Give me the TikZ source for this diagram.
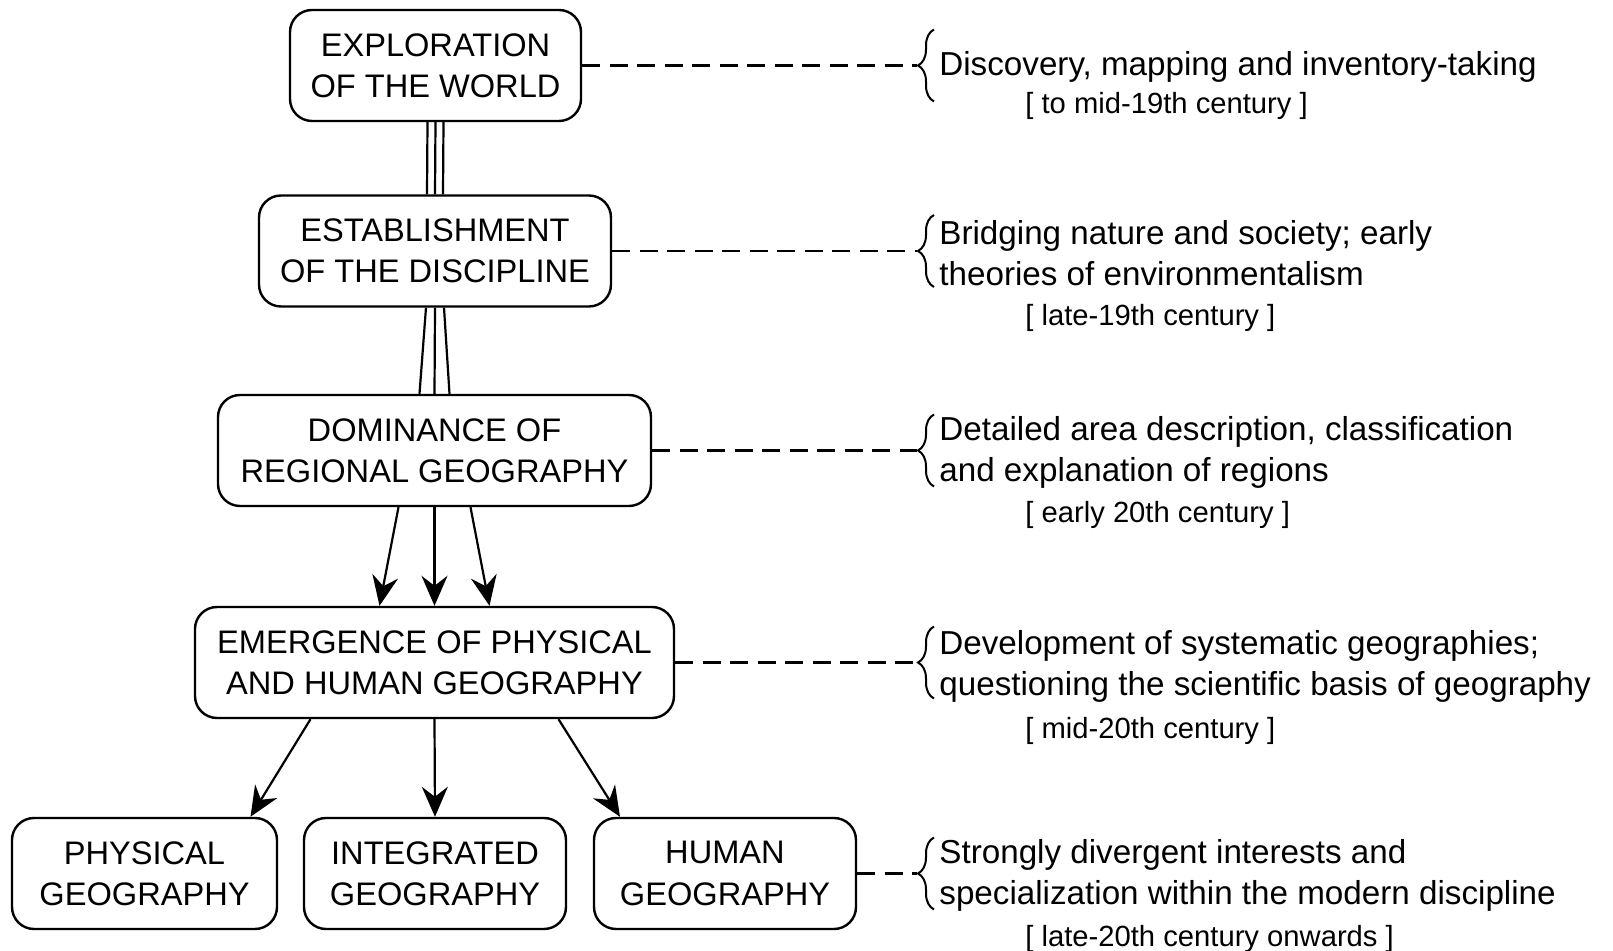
\documentclass[tikz,border=0pt]{standalone}
\usepackage{fontspec}
\setmainfont{Liberation Sans}
\usetikzlibrary{arrows.meta,calc,decorations.pathreplacing}
\newcommand\rtxt{\fontsize{16.6}{20.5}\selectfont}
\newcommand\dtxt{\fontsize{14.6}{18}\selectfont}
\begin{document}
\begin{tikzpicture}[x=0.5pt,y=-0.5pt,
  box/.style={draw, line width=1.2pt, rounded corners=11pt, align=center,
    font=\fontsize{16.3}{20.7}\selectfont, inner sep=0pt, minimum height=55.5pt},
  link/.style={line width=1.1pt},
  arr/.style={line width=1.1pt, -{Stealth[length=15pt,width=13pt,inset=5pt]}},
  dashlink/.style={line width=1.4pt, dash pattern=on 9pt off 4.75pt},
  bracestyle/.style={line width=1pt, decorate, decoration={brace, amplitude=8pt}},
  rline/.style={anchor=base west, font=\rtxt, inner sep=0pt},
  dline/.style={anchor=base west, font=\dtxt, inner sep=0pt}
]
\useasboundingbox (0,0) rectangle (1613,951);

% boxes
\node[box, minimum width=145.5pt] (b1) at (435.5,65.5) {EXPLORATION\\OF THE WORLD};
\node[box, minimum width=176pt] (b2) at (435,251) {ESTABLISHMENT\\OF THE DISCIPLINE};
\node[box, minimum width=216.5pt] (b3) at (434.5,450.5) {DOMINANCE OF\\REGIONAL GEOGRAPHY};
\node[box, minimum width=239.5pt] (b4) at (434.5,662.5) {EMERGENCE OF PHYSICAL\\AND HUMAN GEOGRAPHY};
\node[box, minimum width=132.5pt] (p) at (144.5,873.5) {PHYSICAL\\GEOGRAPHY};
\node[box, minimum width=131pt] (i) at (435,873.5) {INTEGRATED\\GEOGRAPHY};
\node[box, minimum width=131pt] (h) at (725,873.5) {HUMAN\\GEOGRAPHY};

% connectors
\foreach \d in {-8,0,8}
  \draw[link] ($(b1.south)+(\d,0)$) -- ($(b2.north)+(\d,0)$);
\foreach \a/\b in {-9/-15,0/0,9/15}
  \draw[link] ($(b2.south)+(\a,0)$) -- ($(b3.north)+(\b,0)$);
\foreach \a/\b in {-36/-55,0/0,36/55}
  \draw[arr] ($(b3.south)+(\a,0)$) -- ($(b4.north)+(\b,0)$);
\draw[arr] ($(b4.south)+(-124,0)$) -- ($(p.north)+(106,0)$);
\draw[arr] (b4.south) -- (i.north);
\draw[arr] ($(b4.south)+(124,0)$) -- ($(h.north)+(-105,0)$);

% braces and dashed links
\foreach \n/\c in {1/65.5,2/251,3/450.5,4/662.5,5/873.5}{
  \draw[bracestyle] (934,\c+36) -- (934,\c-36);
  \coordinate (t\n) at (917,\c);
}
\draw[dashlink] (b1.east) -- (t1);
\draw[dashlink] (b2.east) -- (t2);
\draw[dashlink] (b3.east) -- (t3);
\draw[dashlink] (b4.east) -- (t4);
\draw[dashlink] (h.east) -- (t5);

% right texts
\node[rline] (r1a) at (939,76) {Discovery, mapping and inventory-taking};
\node[dline] (r1d) at (1025,114) {[ to mid-19th century ]};

\node[rline] (r2a) at (939,245) {Bridging nature and society; early};
\node[rline] (r2b) at (939,286) {theories of environmentalism};
\node[dline] (r2d) at (1025,326) {[ late-19th century ]};

\node[rline] (r3a) at (939,440.5) {Detailed area description, classification};
\node[rline] (r3b) at (939,481.5) {and explanation of regions};
\node[dline] (r3d) at (1025,522.5) {[ early 20th century ]};

\node[rline] (r4a) at (939,654.5) {Development of systematic geographies;};
\node[rline] (r4b) at (939,695.5) {questioning the scientific basis of geography};
\node[dline] (r4d) at (1025,738.5) {[ mid-20th century ]};

\node[rline] (r5a) at (939,863.5) {Strongly divergent interests and};
\node[rline] (r5b) at (939,904.5) {specialization within the modern discipline};
\node[dline] (r5d) at (1025,946.5) {[ late-20th century onwards ]};
\end{tikzpicture}
\end{document}
